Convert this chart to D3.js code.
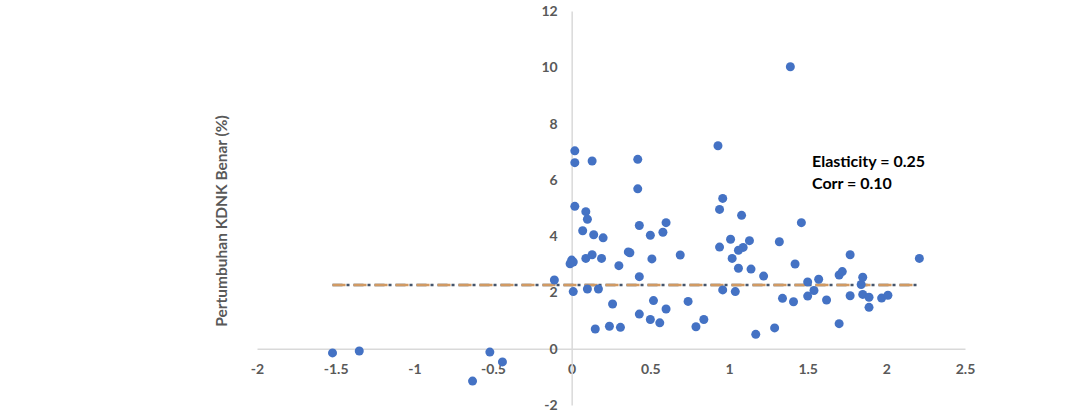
<!DOCTYPE html>
<html>
<head>
<meta charset="utf-8">
<script src="https://cdn.jsdelivr.net/npm/d3@7"></script>
<style>
  body { margin: 0; background: #fff; }
  text { font-family: Lato, "Open Sans", sans-serif; }
</style>
</head>
<body>
<div id="chart"></div>
<script>
// gdp gap (x) vs real GDP growth (y), one entry per observation
const gdpGap = [
  -1.52, -1.35, -0.52, -0.44, -0.63, -0.11, 0.01, 0.10, 0.17, 0.15,
  0.26, 0.24, 0.31, 0.43, 0.43, 0.52, 0.50, 0.56, 0.60, 0.74,
  0.79, 0.84, 0.96, 1.04, 1.22, 1.17, 1.29, 1.34, 1.41, 1.50,
  1.50, 1.54, 1.57, 1.62, 1.70, 1.70, 1.72, 1.77, 1.84, 1.85,
  1.85, 1.89, 1.89, 1.97, 2.01, 0.02, 0.02, 0.13, 0.42, 0.42,
  0.93, 0.96, 0.94, 1.08, 0.02, 0.09, 0.10, 0.43, 0.60, 1.46,
  0.07, 0.14, 0.20, 0.50, 0.58, 1.01, 1.13, 1.09, 1.06, 0.94,
  1.32, 1.77, 2.21, 1.02, 1.42, 0.00, -0.01, 0.01, 0.09, 0.13,
  0.19, 0.30, 0.36, 0.37, 0.51, 0.69, 1.06, 1.14, 1.39
];
const growth = [
  -0.15, -0.08, -0.12, -0.47, -1.15, 2.44, 2.03, 2.12, 2.12, 0.70,
  1.59, 0.80, 0.76, 2.56, 1.23, 1.71, 1.04, 0.92, 1.41, 1.68,
  0.78, 1.04, 2.09, 2.03, 2.58, 0.51, 0.74, 1.79, 1.67, 2.37,
  1.87, 2.07, 2.47, 1.73, 0.89, 2.62, 2.74, 1.88, 2.28, 2.54,
  1.93, 1.83, 1.47, 1.80, 1.90, 7.03, 6.61, 6.67, 6.73, 5.68,
  7.21, 5.34, 4.95, 4.74, 5.06, 4.87, 4.60, 4.38, 4.48, 4.48,
  4.19, 4.05, 3.94, 4.03, 4.14, 3.89, 3.84, 3.60, 3.50, 3.61,
  3.80, 3.34, 3.21, 3.21, 3.01, 3.15, 3.02, 3.08, 3.21, 3.34,
  3.21, 2.95, 3.44, 3.41, 3.19, 3.33, 2.86, 2.83, 10.02
];
const xTicks = [-2, -1.5, -1, -0.5, 0, 0.5, 1, 1.5, 2, 2.5];
const yTicks = [-2, 0, 2, 4, 6, 8, 10, 12];
const fitLevel = 2.26;
const notes = ["Elasticity = 0.25", "Corr = 0.10"];
const yTitle = "Pertumbuhan KDNK Benar (%)";

const width = 1080;
const height = 419;

const svg = d3.select("#chart").append("svg")
  .attr("width", width)
  .attr("height", height);

const x = d3.scaleLinear().domain([-2, 2.5]).range([257, 965]);
const y = d3.scaleLinear().domain([-2, 12]).range([405, 11]);

const points = gdpGap.map((v, i) => ({ x: v, y: growth[i] }));

// axes cross at the origin
const xAxis = svg.append("g")
  .attr("transform", `translate(0,${y(0)})`)
  .call(d3.axisBottom(x).tickValues(xTicks).tickSize(0).tickPadding(15)
    .tickFormat(d => String(d)));

const yAxis = svg.append("g")
  .attr("transform", `translate(${x(0)},0)`)
  .call(d3.axisLeft(y).tickValues(yTicks).tickSize(0).tickPadding(14)
    .tickFormat(d => String(d)));

[xAxis, yAxis].forEach(a => {
  a.select(".domain").attr("stroke", "#d9d9d9").attr("stroke-width", 1.5);
  a.selectAll("text")
    .attr("fill", "#595959")
    .style("font-size", "14px")
    .style("font-weight", "bold");
});

// flat fit line: dash-dot underneath, orange dashes on top
const x0 = d3.min(gdpGap), x1 = d3.max(gdpGap);
svg.append("line")
  .attr("x1", x(x0)).attr("x2", x(x1))
  .attr("y1", y(fitLevel)).attr("y2", y(fitLevel))
  .attr("stroke", "#44546a").attr("stroke-width", 2.5)
  .attr("stroke-dasharray", "10,4,3,4");
svg.append("line")
  .attr("x1", x(x0)).attr("x2", x(x1))
  .attr("y1", y(fitLevel)).attr("y2", y(fitLevel))
  .attr("stroke", "#d19a63").attr("stroke-width", 2.5)
  .attr("stroke-dasharray", "13,8");

svg.append("g")
  .selectAll("circle")
  .data(points)
  .enter()
  .append("circle")
  .attr("cx", d => x(d.x))
  .attr("cy", d => y(d.y))
  .attr("r", 4.5)
  .attr("fill", "#4472c4");

svg.append("g")
  .selectAll("text")
  .data(notes)
  .enter()
  .append("text")
  .attr("x", 812)
  .attr("y", (d, i) => 167 + i * 22)
  .attr("fill", "#000")
  .style("font-size", "16px")
  .style("font-weight", "bold")
  .text(d => d);

svg.append("text")
  .attr("transform", `translate(227,${221}) rotate(-90)`)
  .attr("text-anchor", "middle")
  .attr("fill", "#595959")
  .style("font-size", "15.5px")
  .style("font-weight", "bold")
  .text(yTitle);
</script>
</body>
</html>
